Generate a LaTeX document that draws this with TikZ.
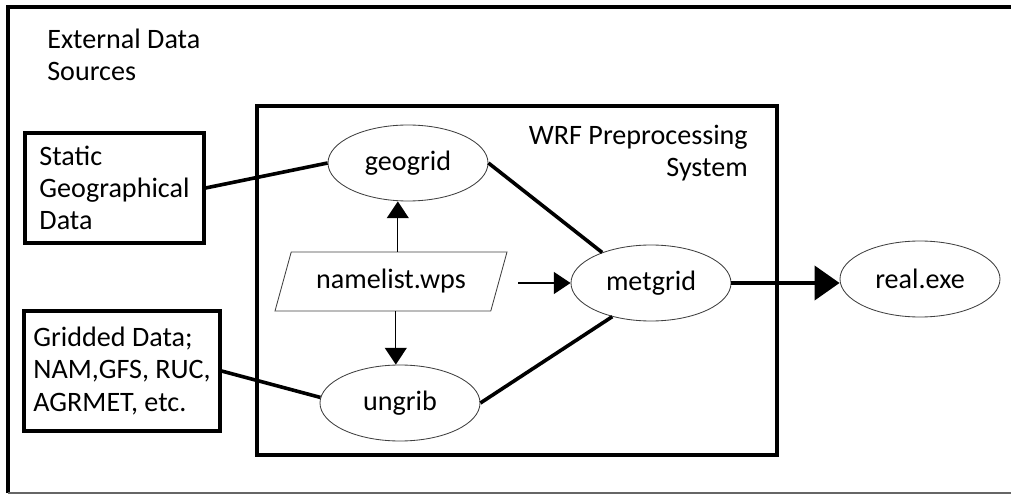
\documentclass[tikz,border=0pt]{standalone}
\usepackage{fontspec}
\setmainfont{Carlito}
\usetikzlibrary{arrows.meta,shapes.geometric}

\begin{document}
\begin{tikzpicture}[
    every node/.style={font=\fontsize{20}{22.8}\selectfont},
    src/.style={draw,line width=0.08cm,align=left,inner sep=0pt},
    prog/.style={draw=black!75,ellipse,line width=0.6pt,minimum width=4cm,minimum height=1.9cm,inner sep=0pt},
    feed/.style={line width=0.9pt,-{Triangle[length=0.42cm,width=0.55cm]}},
    link/.style={line width=0.09cm}
  ]
      \useasboundingbox (0,0) rectangle (25.275,12.375);
      % outer frame, open on the right
      \draw[line width=0.1cm] (0.2,0.05) -- (0.2,12.2) -- (25.275,12.2);
      \draw[black!60,line width=0.05cm] (0.2,0.05) -- (25.275,0.05);
      \node[anchor=north west,align=left,inner sep=0pt] (ext) at (1.175,11.65) {External Data\\Sources};
      \node[src,minimum width=4.475cm,minimum height=2.75cm] (static) at (2.8625,7.675) {Static\\Geographical\\Data};
      \node[src,minimum width=4.9cm,minimum height=3cm] (gridded) at (3.05,3.1) {Gridded Data;\\NAM,GFS, RUC,\\AGRMET, etc.};
      % WPS box
      \draw[line width=0.1cm] (6.425,1.0) rectangle (19.425,9.725);
      \node[anchor=north east,align=right,inner sep=0pt] (wps) at (18.7,9.25) {WRF Preprocessing\\System};
      \node[prog] (geogrid) at (10.2,8.3) {geogrid};
      \node[trapezium,draw=black!75,line width=0.6pt,trapezium left angle=56,trapezium right angle=124,
            trapezium stretches body,minimum width=5.8cm,minimum height=1.475cm,inner sep=0pt] (namelist) at (9.775,5.3375) {namelist.wps};
      \node[prog] (ungrib) at (10,2.3) {ungrib};
      \node[prog] (metgrid) at (16.275,5.3) {metgrid};
      \node[prog] (real) at (23,5.4) {real.exe};
      \coordinate (nlout) at (12.95,5.3);
      \draw[link] (static.east) -- (geogrid.west);
      \draw[link] (gridded.east) -- (ungrib.176);
      \draw[link] (geogrid.east) -- (metgrid.148);
      \draw[link] (ungrib.east) -- (metgrid.221);
      \draw[feed] ([xshift=0.17cm]namelist.north) -- ([xshift=0.17cm]namelist.north |- geogrid.south);
      \draw[feed] ([xshift=0.12cm]namelist.south) -- ([xshift=0.12cm]namelist.south |- ungrib.north);
      \draw[feed] (nlout) -- (metgrid.west);
      \draw[line width=0.1cm,-{Triangle[length=0.625cm,width=0.85cm]}] (metgrid.east) -- (metgrid.east -| real.west);
\end{tikzpicture}
\end{document}
